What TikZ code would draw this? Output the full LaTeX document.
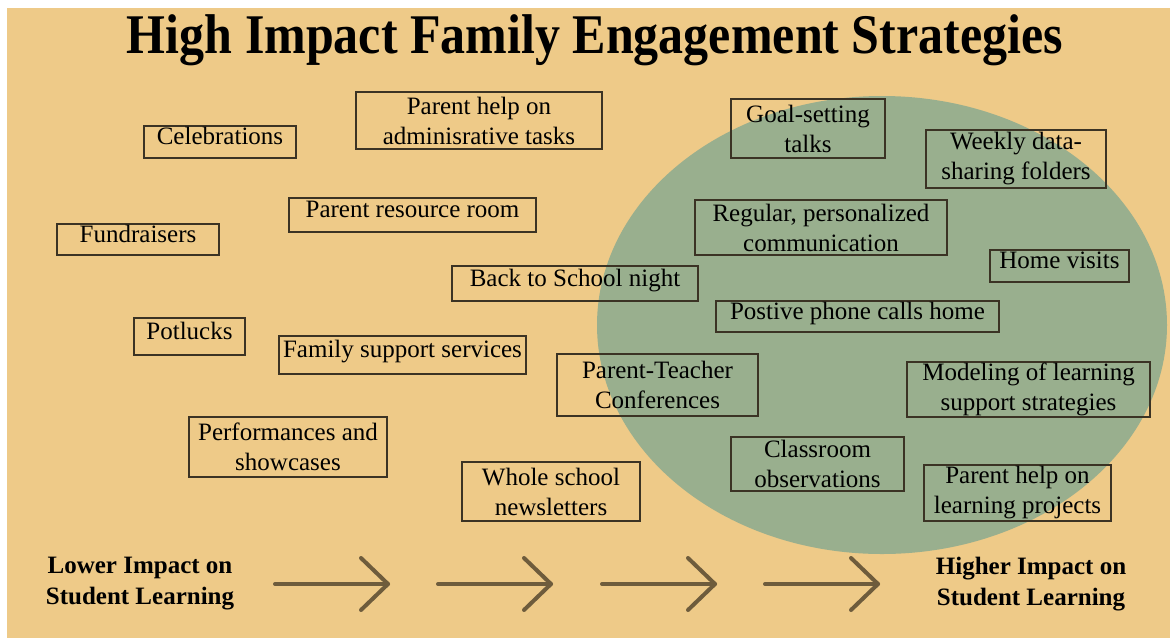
\documentclass[tikz,border=0pt]{standalone}
\usepackage{fontspec}
\setmainfont{Liberation Serif}

\definecolor{tan}{HTML}{EECA88}
\definecolor{sage}{HTML}{99AF8E}
\definecolor{ink}{HTML}{3B3324}
\definecolor{umber}{HTML}{6E5C3C}

\begin{document}
\begin{tikzpicture}[x=1pt, y=-1pt,
    strat/.style 2 args={draw=ink, line width=1.2pt,
        minimum width=#1, minimum height=#2,
        font=\fontsize{25}{30}\selectfont, align=center,
        inner sep=0pt, outer sep=0pt},
    oneline/.style={text height=17pt, text depth=12pt},
    impact/.style={font=\bfseries\fontsize{25}{31}\selectfont, align=center},
    titol/.style={font=\bfseries\fontsize{50}{56}\selectfont},
    advance/.style={draw=umber, line width=4pt, line cap=round, line join=round}
    ]
    \useasboundingbox (0,0) rectangle (1170,638);
    \fill[white] (0,0) rectangle (1170,638);
    \fill[tan] (7,8) rectangle (1170,638);
    \fill[sage] (882,325) ellipse [x radius=285, y radius=229];

    \node[titol] (title) at (595,40) {\scalebox{1}[1.12]{High Impact Family Engagement Strategies}};

    % lower impact side
    \node[strat={152pt}{32pt}, oneline] (cel) at (220,142) {Celebrations};
    \node[strat={246pt}{57pt}] (admin) at (479,120.5) {Parent help on\\ adminisrative tasks};
    \node[strat={162pt}{31pt}, oneline] (fund) at (138,239.5) {Fundraisers};
    \node[strat={247pt}{34pt}, oneline] (room) at (412.5,215) {Parent resource room};
    \node[strat={246pt}{35pt}, oneline] (bts) at (575,283.5) {Back to School night};
    \node[strat={111pt}{37pt}, oneline] (pot) at (189.5,336.5) {Potlucks};
    \node[strat={247pt}{38pt}, oneline] (fss) at (402.5,355) {Family support services};
    \node[strat={201pt}{62pt}] (ptc) at (657.5,385) {Parent-Teacher\\ Conferences};
    \node[strat={198pt}{60pt}] (perf) at (288,447) {Performances and\\ showcases};
    \node[strat={178pt}{59pt}] (news) at (551,491.5) {Whole school\\ newsletters};

    % higher impact side
    \node[strat={154pt}{59pt}] (goal) at (808,128.5) {Goal-setting\\ talks};
    \node[strat={180pt}{58pt}] (weekly) at (1016,159) {Weekly data-\\ sharing folders};
    \node[strat={252pt}{55pt}] (reg) at (821,227.5) {Regular, personalized\\ communication};
    \node[strat={139pt}{32pt}, oneline] (home) at (1059.5,266) {Home visits};
    \node[strat={283pt}{31pt}, oneline] (phone) at (857.5,316.5) {Postive phone calls home};
    \node[strat={243pt}{55pt}] (model) at (1028.5,389.5) {Modeling of learning\\ support strategies};
    \node[strat={173pt}{54pt}] (class) at (817.5,464) {Classroom\\ observations};
    \node[strat={187pt}{56pt}] (learn) at (1017.5,493) {Parent help on\\ learning projects};

    \node[impact] (lower) at (140,584) {Lower Impact on\\ Student Learning};
    \node[impact] (higher) at (1031,584) {Higher Impact on\\ Student Learning};

    \foreach \x [count=\i] in {275,438,602,765}{
        \coordinate (s\i) at (\x,584);
        \coordinate (e\i) at (\x+113,584);
        \draw[advance] (s\i) -- (e\i);
        \draw[advance] ([shift={(-27,-26)}]e\i) -- (e\i) -- ([shift={(-27,26)}]e\i);
    }
\end{tikzpicture}
\end{document}
